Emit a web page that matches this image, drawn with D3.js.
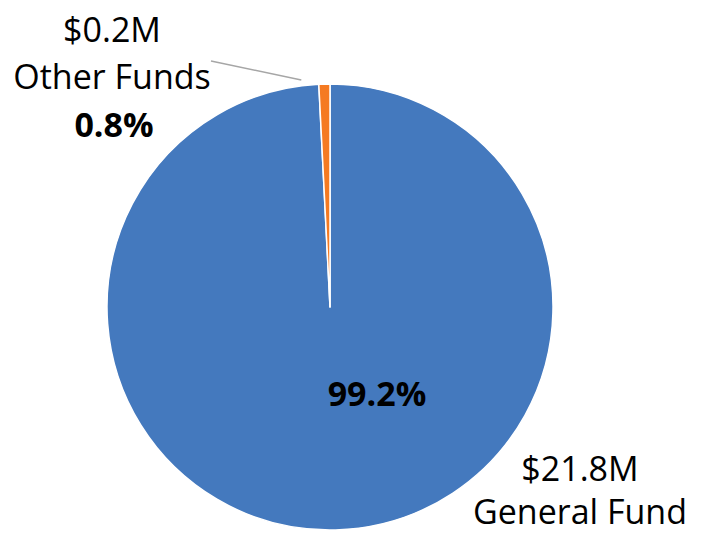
<!DOCTYPE html>
<html><head><meta charset="utf-8">
<script src="https://cdn.jsdelivr.net/npm/d3@7"></script>
<style>body{margin:0;background:#fff}svg{display:block}</style>
</head><body>
<svg id="chart" width="704" height="534"></svg>
<script>
const categories = ["General Fund", "Other Funds"];
const values = [21.8, 0.2];
const shares = [99.2, 0.8];
const percents = ["99.2%", "0.8%"];
const amounts = ["$21.8M", "$0.2M"];
const colors = ["#4479BE", "#F57A22"];

const svg = d3.select("#chart");
const cx = 330, cy = 307, R = 223;
const g = svg.append("g").attr("transform", `translate(${cx},${cy})`);

const pie = d3.pie().sort(null).value(d => d)(shares);
const arc = d3.arc().innerRadius(0).outerRadius(R);

g.selectAll("path").data(pie).join("path")
  .attr("d", arc)
  .attr("fill", (d,i) => colors[i])
  .attr("stroke", "#fff")
  .attr("stroke-width", 1.5)
  .attr("stroke-linejoin", "round");

const font = "'Open Sans', 'Noto Sans', sans-serif";
const fs = 34;

// General Fund labels
g.append("text").attr("x", 47).attr("y", 99).attr("text-anchor","middle")
  .attr("font-family", font).attr("font-size", fs).attr("font-weight","bold").attr("fill","#000")
  .text(percents[0]);
const gl = g.append("text").attr("text-anchor","middle").attr("font-family", font).attr("font-size", fs).attr("fill","#000");
gl.append("tspan").attr("x", 250).attr("y", 174).text(amounts[0]);
gl.append("tspan").attr("x", 250).attr("y", 217).text(categories[0]);

// Other Funds labels
const ol = g.append("text").attr("text-anchor","middle").attr("font-family", font).attr("font-size", fs).attr("fill","#000");
ol.append("tspan").attr("x", -218).attr("y", -265).text(amounts[1]);
ol.append("tspan").attr("x", -218).attr("y", -218).text(categories[1]);
ol.append("tspan").attr("x", -216).attr("y", -170).attr("font-weight","bold").text(percents[1]);

// leader line
const a = (pie[1].startAngle + pie[1].endAngle)/2;
const p1 = [Math.sin(a)*(R+4) - 23, -Math.cos(a)*(R+4)];
g.append("line").attr("x1", -119).attr("y1", -246).attr("x2", p1[0]).attr("y2", p1[1])
  .attr("stroke", "#A6A6A6").attr("stroke-width", 1.5);
</script>
</body></html>
